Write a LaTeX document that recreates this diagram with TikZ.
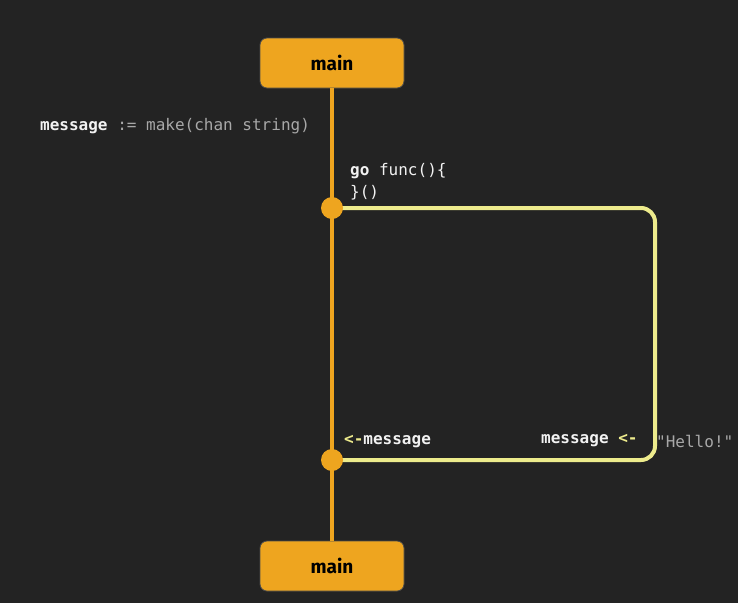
\documentclass[tikz,border=0pt]{standalone}
\usepackage{fontspec}
\setmonofont{DejaVu Sans Mono}
\newfontfamily\boxfont{Fira Sans}
\definecolor{bg}{HTML}{232323}
\definecolor{org}{HTML}{EEA51F}
\definecolor{ylw}{HTML}{EDEB8C}
\definecolor{txtw}{HTML}{F2F2F2}
\definecolor{txtg}{HTML}{A8A8A8}
\begin{document}
\begin{tikzpicture}[x=1pt,y=-1pt,
  mainbox/.style={draw=black!70,line width=0.8pt,fill=org,rounded corners=7pt,minimum width=144pt,minimum height=50pt,inner sep=0pt,font=\boxfont\bfseries\fontsize{19}{21}\selectfont,text=black},
  dot/.style={circle,fill=org,minimum size=22pt,inner sep=0pt},
  code/.style={font=\ttfamily\fontsize{16}{22}\selectfont,anchor=west,inner sep=0pt,text=txtw,align=left},
  orgline/.style={draw=org,line width=4pt},
  ylwline/.style={draw=ylw,line width=4pt,rounded corners=14pt}]
\fill[bg] (0,0) rectangle (738,603);
\useasboundingbox (0,0) rectangle (738,603);
\node[mainbox] (top) at (332,63) {main};
\node[mainbox] (bot) at (332,566) {main};
\coordinate (d1) at (332,208);
\coordinate (d2) at (332,460);
\coordinate (c1) at (655,208);
\coordinate (c2) at (655,460);
\draw[orgline] (top.south) -- (bot.north);
\draw[ylwline] (d1) -- (c1) -- (c2) -- (d2);
\node[dot] (n1) at (d1) {};
\node[dot] (n2) at (d2) {};
\node[code] (mk) at (40,126) {\textbf{message} \textcolor{txtg}{:= make(chan string)}};
\node[code] (go) at (350,182) {\textbf{go} func()\{\\\}()};
\node[code] (recv) at (344,442) {\textcolor{ylw}{\textbf{<-}}\textbf{message}};
\node[code] (send) at (541,441) {\textbf{message} \textcolor{ylw}{\textbf{<-}}};
\node[code,text=txtg] (hello) at (656,441) {"Hello!"};
\end{tikzpicture}
\end{document}
